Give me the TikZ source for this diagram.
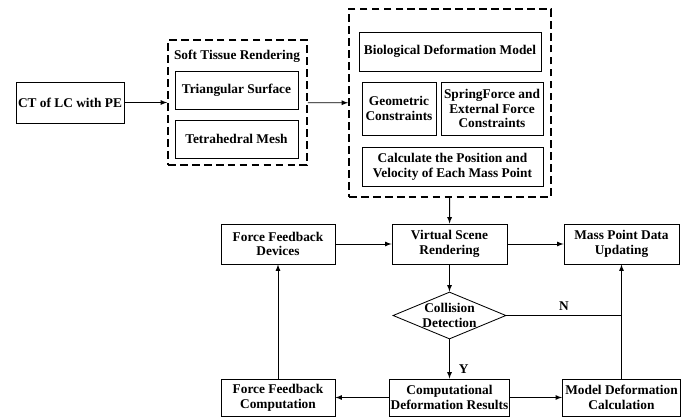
\documentclass[tikz,border=0pt]{standalone}
\usepackage{fontspec}
\setmainfont{Liberation Serif}
\usetikzlibrary{shapes.geometric,positioning}

\begin{document}
\begin{tikzpicture}[x=0.025cm,y=-0.025cm,>=latex,line width=0.6pt,
    font=\bfseries\fontsize{9.5}{10.5}\selectfont,
    box/.style={rectangle,draw,align=center,inner sep=1pt},
    dash box/.style={rectangle,draw,line width=1.2pt,dash pattern=on 5.5pt off 3pt},
    decision/.style={diamond,draw,align=center,inner sep=0pt,aspect=2.4}]

  \useasboundingbox (0,0) rectangle (686,417);

  \node[box,minimum width=2.7cm,minimum height=1.025cm] (ct) at (70,102.5) {CT of LC with PE};

  % soft tissue rendering
  \node[dash box,minimum width=3.475cm,minimum height=3.125cm] (soft) at (237.5,102.5) {};
  \node (softtitle) at (237,56) {Soft Tissue Rendering};
  \node[box,minimum width=3.075cm,minimum height=0.95cm] (tri) at (236.5,90) {Triangular Surface};
  \node[box,minimum width=3.075cm,minimum height=0.95cm] (tet) at (236.5,139) {Tetrahedral Mesh};

  % deformation model
  \node[dash box,minimum width=5.05cm,minimum height=4.7cm] (model) at (450,103) {};
  \node[box,minimum width=4.55cm,minimum height=0.975cm] (bio) at (450,51.5) {Biological Deformation Model};
  \node[box,minimum width=1.85cm,minimum height=1.325cm] (geo) at (399,108.5) {Geometric\\Constraints};
  \node[box,minimum width=2.55cm,minimum height=1.325cm] (spring) at (492,108.5) {SpringForce and\\External Force\\Constraints};
  \node[box,minimum width=4.525cm,minimum height=0.975cm] (calc) at (452.5,166.5) {Calculate the Position and\\Velocity of Each Mass Point};

  % simulation loop
  \node[box,minimum width=2.85cm,minimum height=1cm] (ffd) at (278,244) {Force Feedback\\Devices};
  \node[box,minimum width=2.875cm,minimum height=1cm] (vsr) at (449.5,244) {Virtual Scene\\Rendering};
  \node[box,minimum width=2.875cm,minimum height=1cm] (mpd) at (621.5,244) {Mass Point Data\\Updating};
  \node[decision,minimum width=2.825cm,minimum height=1.175cm] (cd) at (449.5,315.5) {Collision\\Detection};
  \node[box,minimum width=2.85cm,minimum height=0.925cm] (ffc) at (278,397.5) {Force Feedback\\Computation};
  \node[box,minimum width=2.875cm,minimum height=0.925cm] (cdr) at (449.5,397.5) {Computational\\Deformation Results};
  \node[box,minimum width=2.95cm,minimum height=0.925cm] (mdc) at (621.5,397.5) {Model Deformation\\Calculation};

  \coordinate (njoin) at (mdc.north |- cd.east);

  \path[->]
    (ct) edge (soft)
    (soft) edge (model)
    (model) edge (vsr)
    (ffd) edge (vsr)
    (vsr) edge (mpd)
    (vsr) edge (cd)
    (cd) edge node[pos=0.75,right=3pt] {Y} (cdr)
    (cdr) edge (ffc)
    (cdr) edge (mdc)
    (ffc) edge (ffd)
    (mdc) edge (mpd);
  \draw (cd.east) -- node[above] {N} (njoin);
\end{tikzpicture}
\end{document}
